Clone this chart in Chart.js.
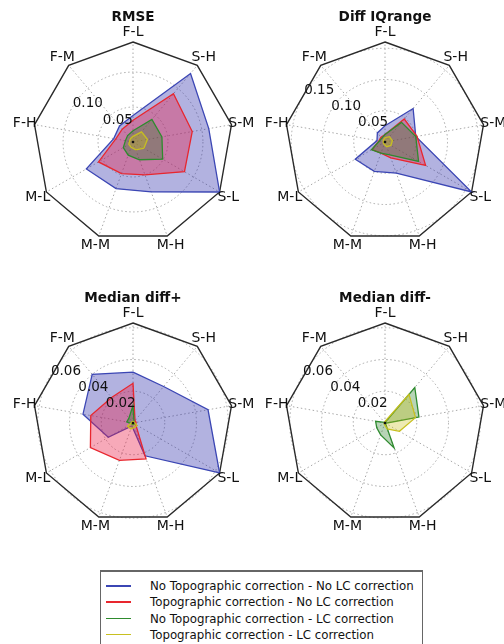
<!DOCTYPE html>
<html>
<head>
<meta charset="utf-8">
<script src="https://cdn.jsdelivr.net/npm/chart.js@4.4.0/dist/chart.umd.min.js"></script>
<style>
  html, body { margin: 0; padding: 0; background: #fff; }
  body { width: 504px; height: 644px; position: relative; overflow: hidden; font-family: "DejaVu Sans", sans-serif; }
  canvas { position: absolute; }
  #legend { position: absolute; left: 100px; top: 570px; width: 321px; height: 90px; border: 1px solid #666; border-top: 2px solid #666; background: #fff; }
  .row { position: absolute; left: 0; width: 320px; height: 16px; }
  .swatch { position: absolute; left: 5px; top: 7px; width: 25px; height: 1.6px; }
  .txt { position: absolute; left: 49px; top: 0; font-size: 11.8px; line-height: 16px; color: #111; white-space: nowrap; }
</style>
</head>
<body>
<canvas id="rmseChart" width="270" height="282" style="left:0;top:0"></canvas>
<canvas id="iqrChart" width="270" height="282" style="left:234px;top:0"></canvas>
<canvas id="plusChart" width="270" height="282" style="left:0;top:281px"></canvas>
<canvas id="minusChart" width="270" height="282" style="left:234px;top:281px"></canvas>
<div id="legend"></div>
<script>
document.addEventListener("DOMContentLoaded", function() {
    // Axes of every radar, clockwise from the top
    const axisLabels = ['F-L', 'S-H', 'S-M', 'S-L', 'M-H', 'M-M', 'M-L', 'F-H', 'F-M'];

    const seriesNames = [
        'No Topographic correction - No LC correction',
        'Topographic correction - No LC correction',
        'No Topographic correction - LC correction',
        'Topographic correction - LC correction'
    ];
    const lineColors = ['#3b46b4', '#e8262e', '#2e8b2e', '#c8c020'];
    const fillColors = ['rgba(35,35,165,0.35)', 'rgba(235,30,70,0.38)', 'rgba(30,120,30,0.32)', 'rgba(200,190,20,0.32)'];

    // RMSE
    const rmseNoTopoNoLC = [0.038, 0.128, 0.110, 0.143, 0.076, 0.071, 0.077, 0.028, 0.030];
    const rmseTopoNoLC   = [0.031, 0.090, 0.086, 0.085, 0.050, 0.048, 0.057, 0.025, 0.024];
    const rmseNoTopoLC   = [0.016, 0.042, 0.042, 0.049, 0.027, 0.020, 0.016, 0.011, 0.012];
    const rmseTopoLC     = [0.008, 0.019, 0.021, 0.018, 0.012, 0.008, 0.007, 0.005, 0.006];
    const rmseTicks = [0.05, 0.10];

    // Diff IQrange
    const iqrNoTopoNoLC = [0.026, 0.070, 0.050, 0.160, 0.053, 0.050, 0.055, 0.013, 0.019];
    const iqrTopoNoLC   = [0.012, 0.048, 0.052, 0.075, 0.027, 0.019, 0.024, 0.010, 0.010];
    const iqrNoTopoLC   = [0.012, 0.041, 0.050, 0.062, 0.022, 0.019, 0.025, 0.009, 0.008];
    const iqrTopoLC     = [0.007, 0.011, 0.012, 0.011, 0.008, 0.004, 0.003, 0.003, 0.004];
    const iqrTicks = [0.05, 0.10, 0.15];

    // Median diff+
    const plusNoTopoNoLC = [0.032, 0.030, 0.048, 0.063, 0.022, 0.002, 0.018, 0.032, 0.040];
    const plusTopoNoLC   = [0.025, 0.002, 0.002, 0.002, 0.024, 0.025, 0.031, 0.027, 0.021];
    const plusNoTopoLC   = [0.011, 0.001, 0.001, 0.001, 0.001, 0.001, 0.001, 0.004, 0.004];
    const plusTopoLC     = [0.001, 0.001, 0.001, 0.003, 0.003, 0.004, 0.004, 0.001, 0.001];
    const plusTicks = [0.02, 0.04, 0.06];

    // Median diff-
    const minusNoTopoNoLC = [0, 0, 0, 0, 0, 0, 0, 0, 0];
    const minusTopoNoLC   = [0, 0, 0, 0, 0, 0, 0, 0, 0];
    const minusNoTopoLC   = [0.0003, 0.0292, 0.0217, 0.0003, 0.0167, 0.008, 0.006, 0.006, 0.0005];
    const minusTopoLC     = [0.001, 0.0235, 0.0195, 0.0105, 0.004, 0.001, 0.0005, 0.0005, 0.0005];
    const minusTicks = [0.02, 0.04, 0.06];

    // Titles, axis names and r labels drawn on top of the radar
    const radarText = {
        id: 'radarText',
        afterDraw(chart, args, opts) {
            const s = chart.scales.r;
            const ctx = chart.ctx;
            ctx.save();
            ctx.fillStyle = '#111';
            // small dark dot at the origin
            ctx.beginPath();
            ctx.arc(s.xCenter, s.yCenter, 1.3, 0, Math.PI * 2);
            ctx.fill();
            ctx.textAlign = 'center';
            ctx.textBaseline = 'middle';
            ctx.font = 'bold 13.6px "DejaVu Sans"';
            ctx.fillText(opts.title, s.xCenter, s.yCenter - 125);
            ctx.font = '14px "DejaVu Sans"';
            axisLabels.forEach((lab, i) => {
                const p = s.getPointPosition(i, s.drawingArea * 1.1);
                ctx.fillText(lab, p.x, p.y);
            });
            ctx.font = '13.5px "DejaVu Sans"';
            ctx.textAlign = 'left';
            ctx.textBaseline = 'alphabetic';
            const a = 59.5 * Math.PI / 180;
            opts.ticks.forEach(v => {
                const d = s.getDistanceFromCenterForValue(v);
                ctx.fillText(v.toFixed(2), s.xCenter - d * Math.sin(a), s.yCenter - d * Math.cos(a));
            });
            ctx.restore();
        }
    };

    function makeRadar(id, title, series, rMax, rTicks, pad) {
        const isFrame = c => c.tick && c.tick.value >= rMax - 1e-9;
        return new Chart(document.getElementById(id), {
            type: 'radar',
            data: {
                labels: axisLabels,
                datasets: series.map((vals, i) => ({
                    label: seriesNames[i],
                    data: vals,
                    borderColor: lineColors[i],
                    backgroundColor: fillColors[i],
                    borderWidth: 1.3,
                    pointRadius: 0,
                    fill: true,
                    order: 4 - i
                }))
            },
            options: {
                responsive: false,
                animation: false,
                layout: { padding: pad },
                plugins: {
                    legend: { display: false },
                    tooltip: { enabled: false },
                    radarText: { title: title, ticks: rTicks }
                },
                scales: {
                    r: {
                        min: 0,
                        max: rMax,
                        afterBuildTicks: scale => {
                            scale.ticks = [0].concat(rTicks.filter(v => v < rMax), [rMax]).map(v => ({ value: v }));
                        },
                        grid: {
                            circular: c => !isFrame(c),
                            color: c => isFrame(c) ? '#2a2a2a' : '#a8a8a8',
                            lineWidth: c => isFrame(c) ? 1.4 : 1
                        },
                        border: {
                            dash: c => isFrame(c) ? [] : [1.5, 2.5]
                        },
                        angleLines: { color: '#a8a8a8', lineWidth: 1, borderDash: [1.5, 2.5] },
                        pointLabels: { display: false },
                        ticks: { display: false }
                    }
                }
            },
            plugins: [radarText]
        });
    }

    const padLeft = { left: 33, right: 37, top: 42, bottom: 40 };
    const padRight = { left: 51, right: 19, top: 42, bottom: 40 };

    makeRadar('rmseChart', 'RMSE', [rmseNoTopoNoLC, rmseTopoNoLC, rmseNoTopoLC, rmseTopoLC], 0.143, rmseTicks, padLeft);
    makeRadar('iqrChart', 'Diff IQrange', [iqrNoTopoNoLC, iqrTopoNoLC, iqrNoTopoLC, iqrTopoLC], 0.16, iqrTicks, padRight);
    makeRadar('plusChart', 'Median diff+', [plusNoTopoNoLC, plusTopoNoLC, plusNoTopoLC, plusTopoLC], 0.063, plusTicks, padLeft);
    makeRadar('minusChart', 'Median diff-', [minusNoTopoNoLC, minusTopoNoLC, minusNoTopoLC, minusTopoLC], 0.063, minusTicks, padRight);

    // Shared legend
    const legend = document.getElementById('legend');
    seriesNames.forEach((name, i) => {
        const row = document.createElement('div');
        row.className = 'row';
        row.style.top = (6 + i * 16.3) + 'px';
        row.innerHTML = `<div class="swatch" style="background:${lineColors[i]}"></div><div class="txt">${name}</div>`;
        legend.appendChild(row);
    });
});
</script>
</body>
</html>
